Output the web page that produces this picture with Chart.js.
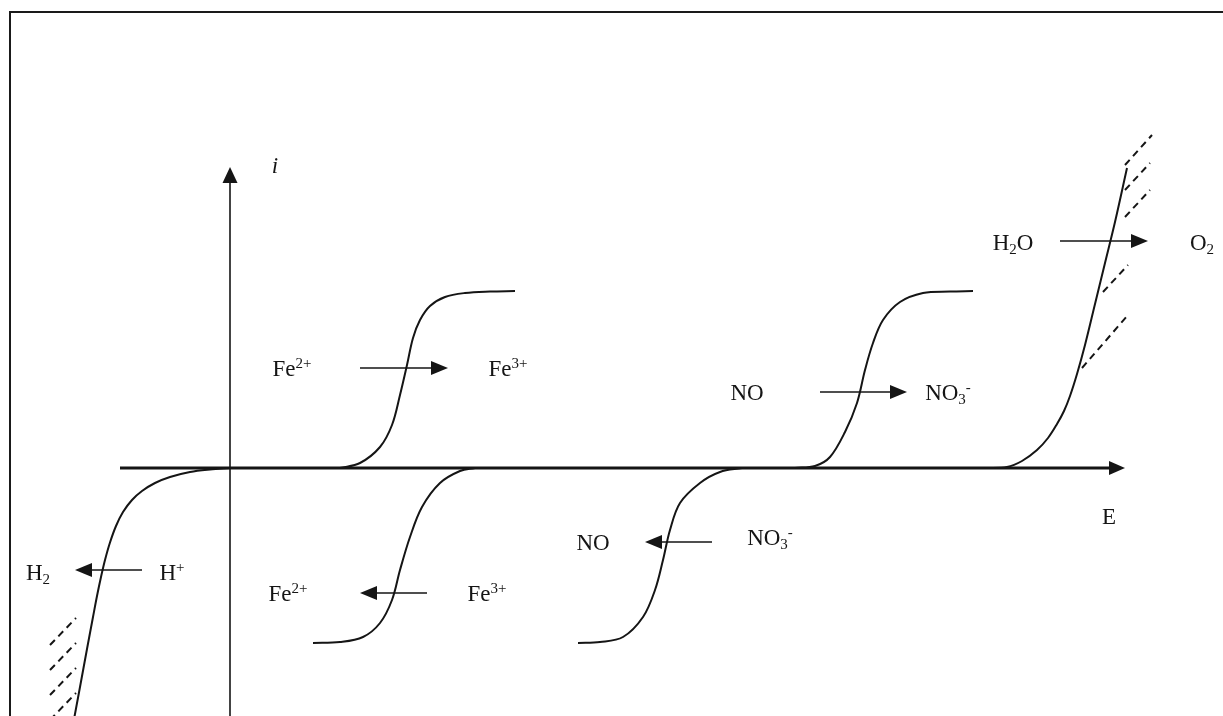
<!DOCTYPE html>
<html>
<head>
<meta charset="utf-8">
<script src="https://cdn.jsdelivr.net/npm/chart.js"></script>
<style>
  html, body { margin: 0; padding: 0; background: #fff; overflow: hidden; }
  #wrap { position: relative; width: 1223px; height: 716px; }
  #frame { position: absolute; left: 9px; top: 11px; width: 1400px; height: 900px;
           border: 2px solid #1a1a1a; pointer-events: none; }
</style>
</head>
<body>
<div id="wrap">
  <canvas id="chart" width="1223" height="716"></canvas>
  <div id="frame"></div>
</div>
<script>
// i-E curves (E and i in arbitrary units, origin where the axes cross)

// Fe2+ -> Fe3+ (anodic wave)
const feOxE = [1.10, 1.30, 1.50, 1.62, 1.70, 1.77, 1.83, 1.90, 2.00, 2.15, 2.35, 2.60, 2.85];
const feOxI = [0, 0.05, 0.21, 0.43, 0.73, 1.03, 1.30, 1.48, 1.62, 1.71, 1.75, 1.765, 1.77];

// Fe3+ -> Fe2+ (cathodic wave)
const feRedE = [0.83, 1.10, 1.33, 1.50, 1.62, 1.70, 1.80, 1.92, 2.10, 2.30, 2.45];
const feRedI = [-1.75, -1.74, -1.69, -1.55, -1.32, -1.02, -0.69, -0.39, -0.15, -0.03, 0];

// NO -> NO3- (anodic wave)
const noOxE = [5.65, 5.85, 6.00, 6.15, 6.27, 6.35, 6.43, 6.53, 6.70, 6.93, 7.20, 7.43];
const noOxI = [0, 0.02, 0.11, 0.36, 0.65, 0.98, 1.25, 1.48, 1.66, 1.75, 1.765, 1.77];

// NO3- -> NO (cathodic wave)
const no3RedE = [3.48, 3.70, 3.93, 4.13, 4.25, 4.33, 4.40, 4.50, 4.70, 4.90, 5.12];
const no3RedI = [-1.75, -1.74, -1.69, -1.49, -1.22, -0.92, -0.62, -0.35, -0.15, -0.04, 0];

// H2O -> O2 (solvent oxidation wall)
const h2oOxE = [7.55, 7.77, 7.92, 8.07, 8.18, 8.27, 8.34, 8.40, 8.47, 8.55, 8.65, 8.75, 8.85, 8.97];
const h2oOxI = [0, 0.01, 0.07, 0.18, 0.30, 0.44, 0.57, 0.72, 0.94, 1.23, 1.64, 2.05, 2.46, 3.00];

// H+ -> H2 (solvent reduction wall)
const hRedE = [-1.58, -1.50, -1.43, -1.37, -1.33, -1.29, -1.25, -1.20, -1.14, -1.07, -0.98, -0.88, -0.75, -0.60, -0.40, -0.20, 0];
const hRedI = [-2.62, -2.19, -1.81, -1.49, -1.28, -1.09, -0.92, -0.745, -0.58, -0.44, -0.32, -0.23, -0.15, -0.09, -0.04, -0.015, 0];

// dashed hatching beside the walls: [E1, i1, E2, i2]
const o2Hatch = [
  [8.95, 3.03, 9.22, 3.33],
  [8.95, 2.78, 9.20, 3.05],
  [8.95, 2.51, 9.20, 2.78],
  [8.73, 1.76, 8.98, 2.03],
  [8.52, 1.00, 8.98, 1.53]
];
const h2Hatch = [
  [-1.80, -1.77, -1.54, -1.50],
  [-1.80, -2.02, -1.54, -1.75],
  [-1.80, -2.27, -1.54, -2.00],
  [-1.80, -2.52, -1.54, -2.25]
];

// axes extents
const eAxis = [-1.10, 8.95];
const iAxis = [-2.60, 3.01];

// reaction arrows: [E from, E to, i]
const reactionArrows = [
  [1.30, 2.18, 1.00],
  [1.97, 1.30, -1.25],
  [5.90, 6.77, 0.76],
  [4.82, 4.15, -0.74],
  [8.30, 9.18, 2.27],
  [-0.88, -1.55, -1.02]
];

// species labels: E, i of the centre, then text parts (n = normal, sub, sup)
const speciesLabels = [
  { e: 0.62, i: 1.00, parts: [['Fe', 'n'], ['2+', 'sup']] },
  { e: 2.78, i: 1.00, parts: [['Fe', 'n'], ['3+', 'sup']] },
  { e: 0.58, i: -1.25, parts: [['Fe', 'n'], ['2+', 'sup']] },
  { e: 2.57, i: -1.25, parts: [['Fe', 'n'], ['3+', 'sup']] },
  { e: 5.17, i: 0.76, parts: [['NO', 'n']] },
  { e: 7.18, i: 0.76, parts: [['NO', 'n'], ['3', 'sub'], ['-', 'sup']] },
  { e: 3.63, i: -0.74, parts: [['NO', 'n']] },
  { e: 5.40, i: -0.69, parts: [['NO', 'n'], ['3', 'sub'], ['-', 'sup']] },
  { e: 7.83, i: 2.26, parts: [['H', 'n'], ['2', 'sub'], ['O', 'n']] },
  { e: 9.72, i: 2.26, parts: [['O', 'n'], ['2', 'sub']] },
  { e: -1.92, i: -1.04, parts: [['H', 'n'], ['2', 'sub']] },
  { e: -0.58, i: -1.04, parts: [['H', 'n'], ['+', 'sup']] },
  { e: 8.79, i: -0.48, parts: [['E', 'n']] },
  { e: 0.45, i: 3.03, parts: [['i', 'it']] }
];

const ink = '#151515';
const serif = '"Liberation Serif", "DejaVu Serif", serif';
const fonts = {
  n: '23px ' + serif,
  it: 'italic 23px ' + serif,
  sub: '15px ' + serif,
  sup: '15px ' + serif
};
const shifts = { n: 0, it: 0, sub: 4, sup: -8 };

const pts = (xs, ys) => xs.map((x, k) => ({ x: x, y: ys[k] }));

const curve = (xs, ys) => ({
  data: pts(xs, ys),
  showLine: true,
  borderColor: ink,
  borderWidth: 2,
  pointRadius: 0,
  fill: false,
  tension: 0.35
});

const hatch = (seg) => ({
  data: [{ x: seg[0], y: seg[1] }, { x: seg[2], y: seg[3] }],
  showLine: true,
  borderColor: ink,
  borderWidth: 2,
  borderDash: [7, 5],
  pointRadius: 0,
  fill: false
});

const datasets = [
  curve(feOxE, feOxI),
  curve(feRedE, feRedI),
  curve(noOxE, noOxI),
  curve(no3RedE, no3RedI),
  curve(h2oOxE, h2oOxI),
  curve(hRedE, hRedI)
].concat(o2Hatch.map(hatch), h2Hatch.map(hatch));

function arrowHead(ctx, tx, ty, ang, len, half) {
  ctx.beginPath();
  ctx.moveTo(tx, ty);
  ctx.lineTo(tx - len * Math.cos(ang) - half * Math.sin(ang), ty - len * Math.sin(ang) + half * Math.cos(ang));
  ctx.lineTo(tx - len * Math.cos(ang) + half * Math.sin(ang), ty - len * Math.sin(ang) - half * Math.cos(ang));
  ctx.closePath();
  ctx.fill();
}

function arrow(ctx, x1, y1, x2, y2, width, len, half) {
  const ang = Math.atan2(y2 - y1, x2 - x1);
  ctx.lineWidth = width;
  ctx.beginPath();
  ctx.moveTo(x1, y1);
  ctx.lineTo(x2 - (len - 2) * Math.cos(ang), y2 - (len - 2) * Math.sin(ang));
  ctx.stroke();
  arrowHead(ctx, x2, y2, ang, len, half);
}

const schemaPlugin = {
  id: 'schema',
  beforeDatasetsDraw(chart) {
    const { ctx, scales: { x, y } } = chart;
    ctx.save();
    ctx.strokeStyle = ink;
    ctx.fillStyle = ink;
    ctx.lineCap = 'butt';
    const y0 = y.getPixelForValue(0);
    const x0 = x.getPixelForValue(0);
    // E axis
    arrow(ctx, x.getPixelForValue(eAxis[0]), y0, x.getPixelForValue(eAxis[1]), y0, 3, 16, 7);
    // i axis
    arrow(ctx, x0, y.getPixelForValue(iAxis[0]), x0, y.getPixelForValue(iAxis[1]), 1.6, 16, 7.5);
    ctx.restore();
  },
  afterDatasetsDraw(chart) {
    const { ctx, scales: { x, y } } = chart;
    ctx.save();
    ctx.strokeStyle = ink;
    ctx.fillStyle = ink;
    reactionArrows.forEach(([e1, e2, i]) => {
      const py = y.getPixelForValue(i);
      arrow(ctx, x.getPixelForValue(e1), py, x.getPixelForValue(e2), py, 1.6, 17, 7);
    });
    ctx.textBaseline = 'alphabetic';
    ctx.textAlign = 'left';
    speciesLabels.forEach((lab) => {
      let w = 0;
      const parts = lab.parts.map(([t, k]) => {
        ctx.font = fonts[k];
        const m = ctx.measureText(t).width;
        w += m;
        return [t, k, m];
      });
      let cx = x.getPixelForValue(lab.e) - w / 2;
      const base = y.getPixelForValue(lab.i) + 8;
      parts.forEach(([t, k, m]) => {
        ctx.font = fonts[k];
        ctx.fillText(t, cx, base + shifts[k]);
        cx += m;
      });
    });
    ctx.restore();
  }
};

new Chart(document.getElementById('chart'), {
  type: 'scatter',
  data: { datasets: datasets },
  options: {
    responsive: false,
    animation: false,
    devicePixelRatio: 1,
    events: [],
    layout: { padding: 0 },
    scales: {
      x: { type: 'linear', min: -2.3, max: 9.93, display: false },
      y: { type: 'linear', min: -2.48, max: 4.68, display: false }
    },
    plugins: {
      legend: { display: false },
      tooltip: { enabled: false }
    }
  },
  plugins: [schemaPlugin]
});
</script>
</body>
</html>
